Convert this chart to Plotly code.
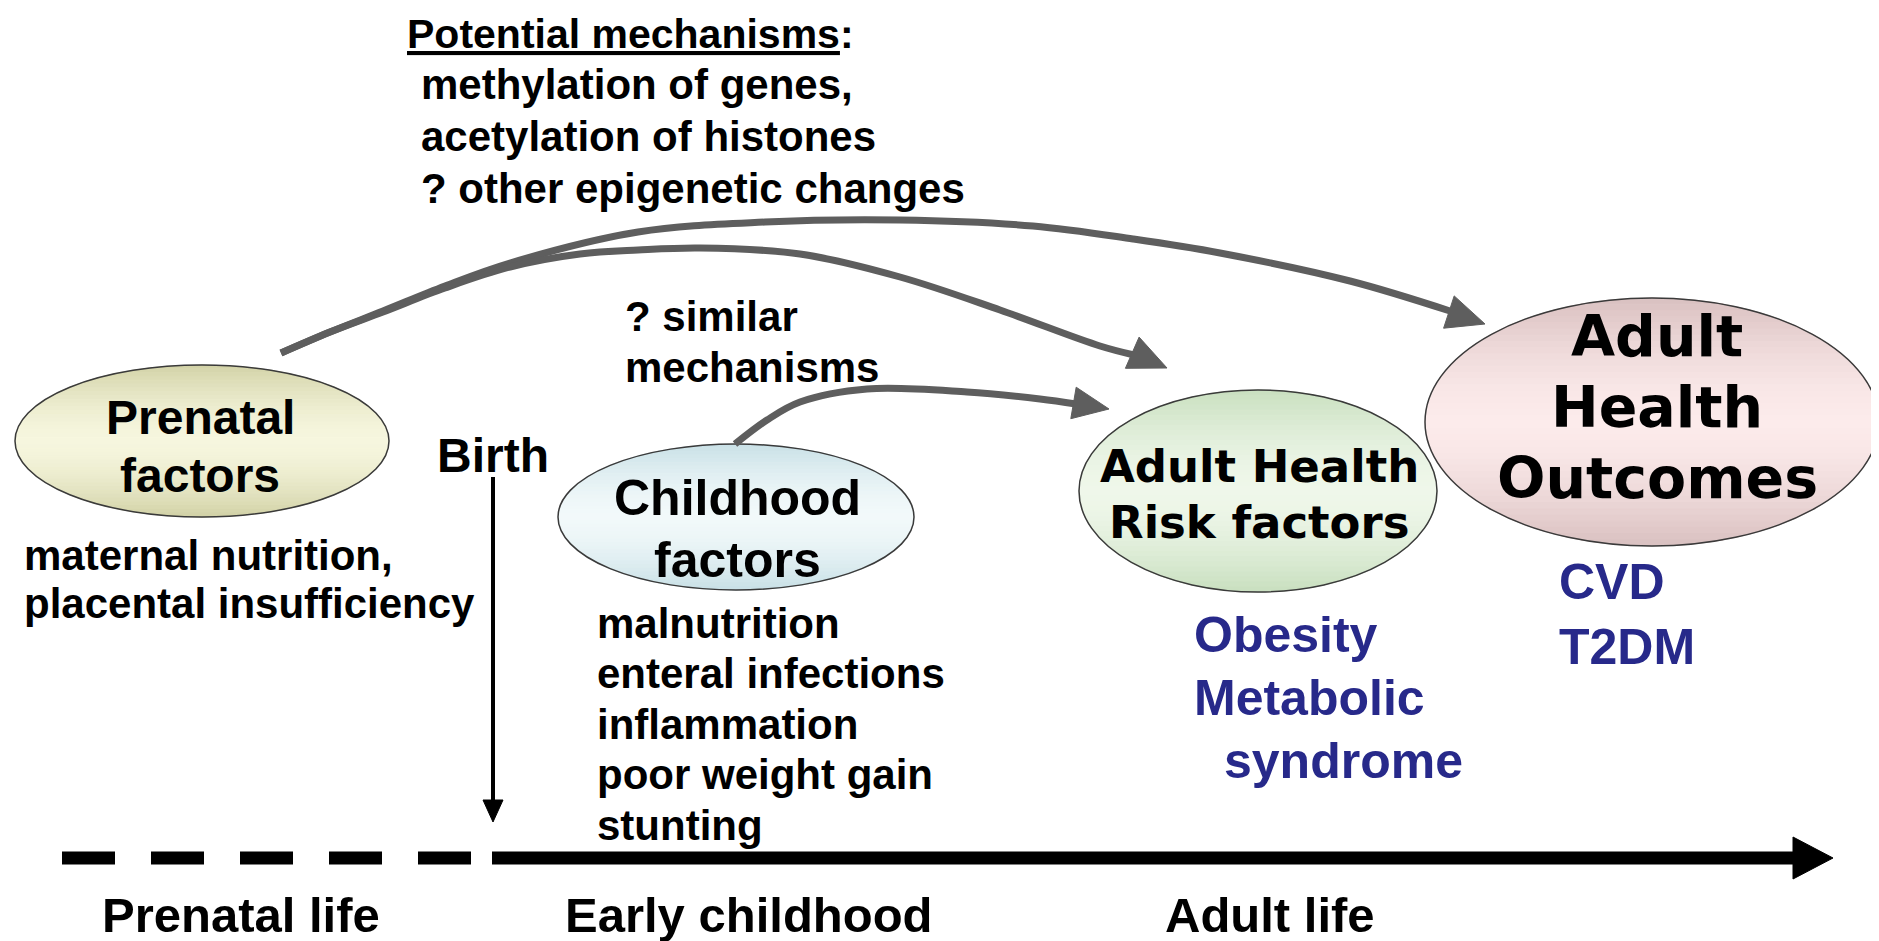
import numpy as np
import plotly.graph_objects as go

# ---- diagram content ----
mechanism_title = "Potential mechanisms"
mechanism_lines = ["methylation of genes,", "acetylation of histones", "? other epigenetic changes"]
similar_lines = ["? similar", "mechanisms"]
prenatal_label = ["Prenatal", "factors"]
childhood_label = ["Childhood", "factors"]
risk_label = ["Adult Health", "Risk factors"]
outcome_label = ["Adult", "Health", "Outcomes"]
prenatal_factors = ["maternal nutrition,", "placental insufficiency"]
childhood_factors = ["malnutrition", "enteral infections", "inflammation", "poor weight gain", "stunting"]
risk_examples = ["Obesity", "Metabolic", "syndrome"]
outcome_examples = ["CVD", "T2DM"]
birth_label = "Birth"
stages = ["Prenatal life", "Early childhood", "Adult life"]

W, H = 1879, 941
PAD = 8  # the page body keeps its default 8px margin
ARIAL = "Liberation Sans, Arial, sans-serif"
VERDANA = "DejaVu Sans, Verdana, sans-serif"
GREY = "#5e5e5e"
NAVY = "#27298a"

fig = go.Figure()
shapes = []
annotations = []


def hex_rgb(h):
    h = h.lstrip("#")
    return [int(h[i:i + 2], 16) for i in (0, 2, 4)]


def mix(c1, c2, t):
    a, b = hex_rgb(c1), hex_rgb(c2)
    return "rgb({},{},{})".format(*[round(x + (y - x) * t) for x, y in zip(a, b)])


def ellipse(cx, cy, rx, ry, c_mid, c_edge, n=40):
    # vertical gradient made of horizontal bands, then a thin outline
    ys = np.linspace(cy - ry, cy + ry, n + 1)
    for ya, yb in zip(ys[:-1], ys[1:]):
        yy = np.linspace(ya, yb, 6)
        half = rx * np.sqrt(np.clip(1 - ((yy - cy) / ry) ** 2, 0, 1))
        pts = [f"{cx + h:.1f},{y:.1f}" for h, y in zip(half, yy)]
        pts += [f"{cx - h:.1f},{y:.1f}" for h, y in zip(half[::-1], yy[::-1])]
        t = abs((ya + yb) / 2 - cy) / ry
        col = mix(c_mid, c_edge, t ** 1.6)
        shapes.append(dict(type="path", path="M " + " L ".join(pts) + " Z",
                           fillcolor=col, line=dict(color=col, width=1), layer="below"))
    shapes.append(dict(type="circle", x0=cx - rx, x1=cx + rx, y0=cy - ry, y1=cy + ry,
                       line=dict(color="#3a3a3a", width=1.5), layer="below"))


def head(tip, direction, length, half_w, color):
    d = np.array(direction, float)
    d /= np.hypot(*d)
    n = np.array([-d[1], d[0]])
    tip = np.array(tip, float)
    base = tip - d * length
    p1, p2 = base + n * half_w, base - n * half_w
    shapes.append(dict(type="path",
                       path=f"M {tip[0]:.1f},{tip[1]:.1f} L {p1[0]:.1f},{p1[1]:.1f} L {p2[0]:.1f},{p2[1]:.1f} Z",
                       fillcolor=color, line=dict(color=color, width=1)))


def text(x, y, s, size, family=ARIAL, color="black", xanchor="left"):
    annotations.append(dict(x=x, y=y, text=s, showarrow=False, xanchor=xanchor, yanchor="middle",
                            font=dict(family=family, size=size, color=color, weight="bold")))


# ---- ellipses ----
ellipse(202, 441, 187, 76, "#f6f6de", "#d2d2a6")
ellipse(736, 517, 178, 73, "#f2f9fa", "#c8e0e6")
ellipse(1258, 491, 179, 101, "#eff7ea", "#c8dfbf")
ellipse(1652, 422, 227, 124, "#fcebeb", "#d9c0c0")

# ---- curved grey connectors ----
curve_a = [(281, 353), (330, 332), (383, 311), (445, 286), (510, 263), (638, 232), (765, 222),
           (900, 220), (1033, 226), (1133, 239), (1220, 253), (1350, 281), (1450, 311)]
curve_b = [(281, 353), (330, 332), (383, 312), (445, 288), (510, 267), (580, 254), (638, 250),
           (700, 248), (800, 254), (900, 277), (1000, 310), (1100, 346), (1134, 355)]
curve_c = [(735, 444), (767, 420), (800, 402), (867, 389), (967, 392), (1040, 399), (1076, 404)]
for pts in (curve_a, curve_b, curve_c):
    fig.add_trace(go.Scatter(x=[p[0] for p in pts], y=[p[1] for p in pts], mode="lines",
                             line=dict(color=GREY, width=7, shape="spline", smoothing=1.0),
                             hoverinfo="skip", showlegend=False))
head((1485, 324), (1, 0.33), 38, 17, GREY)
head((1167, 368), (1, 0.44), 38, 17, GREY)
head((1109, 409), (1, 0.17), 36, 16, GREY)

# ---- timeline ----
shapes.append(dict(type="line", x0=62, x1=472, y0=858, y1=858,
                   line=dict(color="black", width=13, dash="53px,36px")))
shapes.append(dict(type="line", x0=492, x1=1796, y0=858, y1=858, line=dict(color="black", width=13)))
head((1833, 858), (1, 0), 40, 21, "black")

# birth arrow
shapes.append(dict(type="line", x0=493, x1=493, y0=477, y1=805, line=dict(color="black", width=4)))
head((493, 822), (0, 1), 22, 10, "black")

# ---- texts ----
text(405, 34, f"<u>{mechanism_title}</u>:", 41)
for i, s in enumerate(mechanism_lines):
    text(419, 84 + i * 52, s, 42)
for i, s in enumerate(similar_lines):
    text(623, 316 + i * 51, s, 42)

for i, s in enumerate(prenatal_label):
    text(200, 417 + i * 58, s, 48, xanchor="center")
for i, s in enumerate(childhood_label):
    text(737, 498 + i * 62, s, 50, xanchor="center")
for i, s in enumerate(risk_label):
    text(1259, 466 + i * 56, s, 45, family=VERDANA, xanchor="center")
for i, s in enumerate(outcome_label):
    text(1657, 336 + i * 71, s, 57, family=VERDANA, xanchor="center")

text(493, 455, birth_label, 48, xanchor="center")
for i, s in enumerate(prenatal_factors):
    text(22, 555 + i * 48, s, 42)
for i, s in enumerate(childhood_factors):
    text(595, 623 + i * 50.5, s, 42)

risk_x = [1192, 1192, 1222]
for i, s in enumerate(risk_examples):
    text(risk_x[i], 635 + i * 63, s, 50, color=NAVY)
for i, s in enumerate(outcome_examples):
    text(1557, 582 + i * 65, s, 50, color=NAVY)

stage_x = [241, 749, 1270]
for x, s in zip(stage_x, stages):
    text(x, 915, s, 49, xanchor="center")

fig.update_layout(
    width=W - PAD, height=H - PAD,
    margin=dict(l=0, r=0, t=0, b=0),
    paper_bgcolor="white", plot_bgcolor="white",
    xaxis=dict(range=[PAD, W], visible=False, fixedrange=True),
    yaxis=dict(range=[H, PAD], visible=False, fixedrange=True),
    shapes=shapes, annotations=annotations, showlegend=False,
)

fig.write_html("out.html")
